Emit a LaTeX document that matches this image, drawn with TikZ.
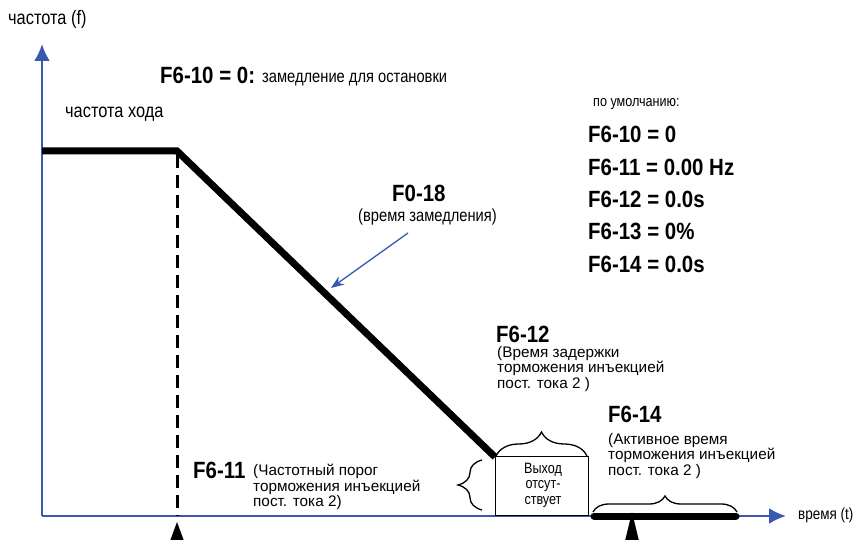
\documentclass[tikz,border=0pt]{standalone}
\usepackage{fontspec}
\usetikzlibrary{arrows.meta,decorations.pathreplacing}
\newfontfamily\labfont[FakeStretch=0.87]{Liberation Sans}
\newfontfamily\thinfont[FakeStretch=0.84]{Liberation Sans}
\newfontfamily\subfont[FakeStretch=1.0]{Liberation Sans}
\definecolor{axisblue}{RGB}{58,88,178}
\begin{document}
\begin{tikzpicture}[x=1pt,y=-1pt,
  axis/.style={axisblue,line width=2.5pt,-{Latex[length=17pt,width=16pt]}},
  curve/.style={line width=7pt,line join=miter},
  dashline/.style={line width=3pt,dash pattern=on 13pt off 7pt},
  lbl/.style={anchor=base west,inner sep=0pt,font=\labfont\bfseries\fontsize{23.5}{26}\selectfont},
  sm/.style={anchor=base west,inner sep=0pt,font=\thinfont\fontsize{17.5}{20}\selectfont},
  subtxt/.style={anchor=north west,inner sep=0pt,align=left,font=\subfont\fontsize{15.3}{12.4}\selectfont},
  bracestyle/.style={decorate,line width=1.3pt},
  marker/.style={fill=black}
]
\useasboundingbox (0,0) rectangle (860,540);
% axes
\coordinate (O) at (42,516);
\coordinate (ytop) at (42,44);
\coordinate (xend) at (786,516);
\draw[axis] (O) -- (ytop);
\draw[axis] (O) -- (xend);
\node[sm,font=\thinfont\fontsize{19.5}{20}\selectfont] (flab) at (8,25) {частота (f)};
\node[sm,font=\thinfont\fontsize{16}{20}\selectfont] (tlab) at (798,519) {время (t)};
% frequency curve
\coordinate (f0) at (42,151);
\coordinate (f1) at (177,151);
\coordinate (f2) at (495,457);
\draw[curve] (f0) -- (f1) -- (f2);
\coordinate (d0) at (177,155);
\coordinate (d1) at (177,516);
\draw[dashline] (d0) -- (d1);
% box
\node[draw,line width=1.3pt,minimum width=93pt,minimum height=59pt,anchor=south west,inner sep=0pt] (box) at (495,516) {};
\node[align=center,inner sep=0pt,font=\thinfont\fontsize{15}{15.5}\selectfont] (boxtxt) at (543,485) {Выход\\отсут-\\ствует};
% thick bottom segment
\coordinate (s0) at (594,516);
\coordinate (s1) at (736,516);
\draw[line width=7pt,line cap=round] (s0) -- (s1);
% markers
\fill[marker] (177,522) -- (170,541) -- (184,541) -- cycle;
\fill[marker] (632,512) -- (625,541) -- (639,541) -- cycle;
% braces
\coordinate (b1a) at (496,456);
\coordinate (b1b) at (587,456);
\draw[bracestyle,decoration={brace,amplitude=24pt}] (b1a) -- (b1b);
\coordinate (b2a) at (482,510);
\coordinate (b2b) at (482,460);
\draw[bracestyle,decoration={brace,amplitude=24pt}] (b2a) -- (b2b);
\coordinate (b3a) at (593,512);
\coordinate (b3b) at (737,512);
\draw[bracestyle,decoration={brace,amplitude=16pt}] (b3a) -- (b3b);
% pointer
\coordinate (pstart) at (408,233);
\coordinate (ptip) at (331,288);
\draw[axisblue,line width=1.3pt,-{Stealth[length=13pt,width=10pt]}] (pstart) -- (ptip);
% texts
\node[lbl] (f610) at (160,84) {F6-10 = 0:};
\node[sm] (f610t) at (262,83) {замедление для остановки};
\node[sm,font=\thinfont\fontsize{19.5}{20}\selectfont] (runf) at (65,118) {частота хода};
\node[sm,font=\thinfont\fontsize{15}{20}\selectfont] (dflt) at (593,107) {по умолчанию:};
\node[lbl] (d10) at (588,143) {F6-10 = 0};
\node[lbl] (d11) at (588,176) {F6-11 = 0.00 Hz};
\node[lbl] (d12) at (588,208) {F6-12 = 0.0s};
\node[lbl] (d13) at (588,240) {F6-13 = 0\%};
\node[lbl] (d14) at (588,273) {F6-14 = 0.0s};
\node[lbl] (f018) at (392,202) {F0-18};
\node[sm] (f018t) at (358,222) {(время замедления)};
\node[lbl] (f612) at (496,342) {F6-12};
\node[subtxt] (f612t) at (497,346) {(Время задержки\\торможения инъекцией\\пост. тока 2 )};
\node[lbl] (f614) at (608,422) {F6-14};
\node[subtxt] (f614t) at (608,433) {(Активное время\\торможения инъекцией\\пост. тока 2 )};
\node[lbl] (f611) at (193,478) {F6-11};
\node[subtxt] (f611t) at (253,464) {(Частотный порог\\торможения инъекцией\\пост. тока 2)};
\end{tikzpicture}
\end{document}
